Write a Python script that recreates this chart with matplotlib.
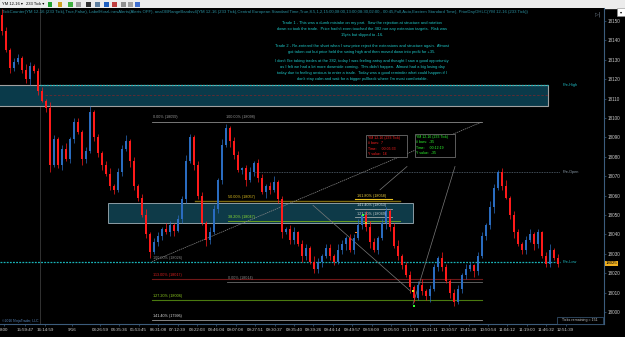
import matplotlib
matplotlib.use('Agg')
import matplotlib.pyplot as plt
from matplotlib.patches import Rectangle

W, H = 625, 337

# ---------------- data ----------------
first_open = 18153
closes = [18145, 18135, 18126, 18129, 18131, 18125, 18120, 18127, 18124, 18114,
          18109, 18105, 18076, 18089, 18076, 18084, 18079, 18089, 18098, 18093,
          18079, 18083, 18103, 18090, 18082, 18076, 18071, 18065, 18063, 18072,
          18084, 18088, 18078, 18065, 18059, 18050, 18040, 18031, 18036, 18039,
          18043, 18041, 18045, 18042, 18048, 18058, 18078, 18090, 18076, 18060,
          18046, 18037, 18041, 18053, 18068, 18086, 18095, 18088, 18081, 18073,
          18074, 18068, 18072, 18077, 18069, 18062, 18065, 18063, 18067, 18058,
          18041, 18043, 18037, 18041, 18035, 18029, 18033, 18026, 18022, 18026,
          18029, 18033, 18029, 18026, 18032, 18035, 18038, 18032, 18038, 18045,
          18050, 18044, 18036, 18032, 18038, 18046, 18052, 18044, 18034, 18029,
          18024, 18019, 18013, 18007, 18014, 18011, 18008, 18012, 18023, 18028,
          18023, 18016, 18010, 18005, 18012, 18019, 18022, 18024, 18021, 18029,
          18039, 18045, 18054, 18064, 18072, 18065, 18059, 18050, 18041, 18035,
          18032, 18037, 18040, 18035, 18041, 18029, 18025, 18032, 18028, 18025]
wick_hi = [3, 2, 1, 2, 2, 1, 3, 2, 1, 2, 2, 1, 3, 2, 1, 2, 3, 1, 2, 2,
           1, 2, 3, 1, 2, 1, 2, 3, 1, 2, 2, 3, 1, 2, 1, 2, 3, 1, 2, 2,
           1, 3, 2, 1, 2, 2, 3, 2, 1, 2, 2, 1, 3, 2, 1, 3, 2, 1, 2, 2,
           1, 2, 3, 1, 2, 2, 1, 2, 3, 1, 2, 1, 2, 3, 1, 2, 2, 1, 3, 2,
           1, 2, 2, 1, 3, 2, 1, 2, 2, 3, 1, 2, 3, 2, 1, 2, 2, 1, 2, 3,
           1, 2, 2, 1, 2, 3, 1, 2, 2, 1, 3, 2, 1, 2, 2, 1, 3, 2, 1, 2,
           2, 1, 3, 2, 1, 2, 3, 1, 2, 2, 1, 2, 3, 1, 2, 1, 2, 3, 1, 2]
wick_lo = [2, 1, 3, 2, 1, 2, 2, 3, 1, 2, 1, 2, 4, 1, 2, 3, 1, 2, 2, 1,
           3, 2, 1, 2, 2, 3, 1, 2, 2, 1, 2, 1, 3, 2, 2, 1, 2, 3, 1, 2,
           2, 1, 2, 3, 1, 2, 2, 1, 3, 2, 1, 3, 2, 1, 2, 2, 1, 3, 2, 1,
           2, 3, 1, 2, 2, 1, 3, 2, 1, 2, 3, 1, 2, 2, 1, 3, 2, 1, 2, 2,
           3, 1, 2, 2, 1, 2, 3, 1, 2, 1, 2, 2, 3, 1, 2, 1, 3, 2, 1, 2,
           2, 1, 3, 2, 1, 2, 2, 3, 1, 2, 2, 1, 3, 2, 1, 2, 2, 1, 3, 2,
           1, 2, 2, 3, 1, 2, 1, 2, 3, 1, 2, 2, 1, 3, 2, 1, 2, 2, 1, 2]

price_ticks = list(range(18000, 18151, 10))
time_labels = ["8:00", "15:59:47", "16:14:59", "9/16", "03:26:59", "04:35:36",
               "05:53:45", "06:31:08", "07:12:39", "08:22:03", "08:46:04",
               "09:07:08", "09:27:51", "09:30:37", "09:35:40", "09:39:26",
               "09:44:14", "09:49:57", "09:58:09", "10:05:50", "10:13:18",
               "10:21:11", "10:30:57", "10:41:49", "10:50:54", "11:04:12",
               "11:19:00", "11:46:32", "12:51:39"]

pre_high, pre_open, pre_low = 18117, 18072, 18026
zone_upper = (18106, 18117)
zone_lower = (18046, 18056)

note_lines = [
    "Trade 1 - This was a dumb mistake on my part.  Saw the rejection at structure and rotation",
    "down so took the trade.  Price hadn't even touched the 382 nor any extension targets.  Risk was",
    "15pts but slipped to -16.",
    "Trade 2 - Re-entered the short when I saw price reject the extensions and structure again.  Almost",
    "got taken out but price held the swing high and then moved down into profit for +35.",
    "I don't like taking trades at the 382, today I was feeling antsy and thought I saw a good opportunity",
    "as I felt we had a lot more downside coming.  This didn't happen.  Almost had a big losing day",
    "today due to feeling anxious to enter a trade.  Today was a good reminder what could happen if I",
    "don't stay calm and wait for a bigger pullback where I'm most comfortable.",
]
indicator_text = ("TickCounter(YM 12-16 (233 Tick),True,False), LabelHorzLinesAlerts(Alerts OFF), "
                  "anaOBRangeBandsv4(YM 12-16 (233 Tick),Central European Standard Time,True,8.5,1,2,"
                  "15:00,08:00,13:00,08:30,02:00,- 00:45,Full,Auto,Eastern Standard Time), "
                  "PriorDayOHLC(YM 12-16 (233 Tick))")
red_ruler = ["YM 12-16 (233 Tick)", "# bars:  7", "Time:     00:05:33", "Y value:  16"]
green_ruler = ["YM 12-16 (233 Tick)", "# bars:  -35", "Time:     00:12:19", "Y value:  -35"]

# ---------------- layout helpers ----------------
def bx(px):
    return (px - 2) / 4.0

Y_TOP, Y_BOT = 8, 324
P_TOP = 18150 + (21 - Y_TOP) / 1.94
P_BOT = 18150 - (Y_BOT - 21) / 1.94

plt.rcParams['font.family'] = ['Liberation Sans', 'DejaVu Sans']
fig = plt.figure(figsize=(W / 100, H / 100), dpi=100, facecolor='black')

def ftext(x, y, s, **kw):
    kw.setdefault('va', 'center')
    return fig.text(x / W, 1 - y / H, s, **kw)

ax = fig.add_axes([0, (H - Y_BOT) / H, 604 / W, (Y_BOT - Y_TOP) / H])
ax.set_facecolor('black')
ax.set_xlim(bx(0), bx(604))
ax.set_ylim(P_BOT, P_TOP)

# zones
ax.add_patch(Rectangle((bx(-2), zone_upper[0]), bx(548) - bx(-2), zone_upper[1] - zone_upper[0],
                       facecolor='#0a3a4a', edgecolor='#a0a0a0', lw=0.8, zorder=1))
ax.add_patch(Rectangle((bx(108), zone_lower[0]), bx(413) - bx(108), zone_lower[1] - zone_lower[0],
                       facecolor='#0e3a48', edgecolor='#8c9ca4', lw=0.7, zorder=1))
ax.plot([bx(45), bx(548)], [18112, 18112], color='#6a2a30', lw=0.6, ls=(0, (3, 2)), zorder=1.5)

# session separator
ax.axvline(bx(40), color='#3a3a3a', lw=0.6, zorder=0.5)

# prior day levels
ax.plot([bx(40), bx(548)], [pre_high, pre_high], color='#19b4b8', lw=0.9, ls=(0, (1.5, 1)), zorder=2)
ax.plot([bx(255), bx(560)], [pre_open, pre_open], color='#5a6a78', lw=0.6, ls=(0, (1, 1)), zorder=2)
ax.plot([bx(0), bx(560)], [pre_low, pre_low], color='#19b4b8', lw=0.9, ls=(0, (1.5, 1)), zorder=2)
for lvl, name, col in [(pre_high, "Pre-High", '#1fb8c0'), (pre_open, "Pre-Open", '#8a9aa8'),
                       (pre_low, "Pre-Low", '#1fb8c0')]:
    ax.text(bx(563), lvl, name, color=col, fontsize=2.8, va='center', ha='left', zorder=5)

# fib set (upper retracement)
ax.plot([bx(152), bx(482)], [18098, 18098], color='#8a8a8a', lw=0.6, zorder=2)
ax.text(bx(153), 18099.5, "0.00% (18099)", color='#9a9a9a', fontsize=2.7, va='bottom', zorder=5)
ax.text(bx(226), 18099.5, "100.00% (18098)", color='#9a9a9a', fontsize=2.7, va='bottom', zorder=5)
ax.plot([bx(195), bx(400)], [18057, 18057], color='#7a6a10', lw=1.0, zorder=2)
ax.text(bx(228), 18058, "50.00% (18057)", color='#e0c020', fontsize=2.7, va='bottom', zorder=5)
ax.plot([bx(228), bx(400)], [18047, 18047], color='#6aa020', lw=0.7, zorder=2)
ax.text(bx(228), 18048, "38.20% (18047)", color='#90e030', fontsize=2.7, va='bottom', zorder=5)

# extension targets
ax.plot([bx(355), bx(392)], [18058, 18058], color='#e8c020', lw=0.8, zorder=2)
ax.text(bx(357), 18059, "161.80% (18058)", color='#f0d040', fontsize=2.7, va='bottom', zorder=5)
ax.plot([bx(355), bx(392)], [18053, 18053], color='#a0a8a8', lw=0.6, zorder=2)
ax.text(bx(357), 18054, "141.40% (18053)", color='#d0d8d8', fontsize=2.7, va='bottom', zorder=5)
ax.plot([bx(355), bx(392)], [18049, 18049], color='#a0a8a8', lw=0.6, zorder=2)
ax.text(bx(357), 18049.5, "127.20% (18049)", color='#c8d0d0', fontsize=2.7, va='bottom', zorder=5)

# lower extension set
ax.text(bx(153), 18027, "100.00% (18026)", color='#8a8a8a', fontsize=2.7, va='bottom', zorder=5)
ax.plot([bx(152), bx(482)], [18017, 18017], color='#701818', lw=0.8, zorder=2)
ax.text(bx(153), 18018, "113.00% (18017)", color='#e02020', fontsize=2.7, va='bottom', zorder=5)
ax.plot([bx(227), bx(482)], [18015.5, 18015.5], color='#6a6a6a', lw=0.6, zorder=2)
ax.text(bx(228), 18016.5, "0.00% (18014)", color='#8a8a8a', fontsize=2.7, va='bottom', zorder=5)
ax.plot([bx(152), bx(482)], [18006, 18006], color='#4a7a10', lw=0.8, zorder=2)
ax.text(bx(153), 18007, "127.20% (18006)", color='#90d020', fontsize=2.7, va='bottom', zorder=5)
ax.plot([bx(152), bx(482)], [17996, 17996], color='#9a9a9a', lw=0.6, zorder=2)
ax.text(bx(153), 17997, "141.40% (17996)", color='#e0e0e0', fontsize=2.7, va='bottom', zorder=5)

# drawing lines
ax.plot([bx(152), bx(482)], [18026, 18098], color='#8a8a8a', lw=0.5, ls=(0, (2, 1)), zorder=2)
ax.plot([bx(313), bx(410)], [18055, 18011], color='#7a7a7a', lw=0.5, zorder=2)
ax.plot([bx(407), bx(380)], [18075, 18063], color='#7a7a7a', lw=0.5, zorder=2)
ax.plot([bx(455), bx(413)], [18075, 18004], color='#7a7a7a', lw=0.5, zorder=2)

# candles
opens = [first_open] + closes[:-1]
xs = list(range(len(closes)))
cols = ['#2a6cc0' if c >= o else '#ff1a1a' for o, c in zip(opens, closes)]
highs = [max(o, c) + w for o, c, w in zip(opens, closes, wick_hi)]
lows = [min(o, c) - w for o, c, w in zip(opens, closes, wick_lo)]
ax.vlines(xs, lows, highs, colors=cols, lw=0.5, zorder=3)
ax.bar(xs, [max(abs(c - o), 0.6) for o, c in zip(opens, closes)],
       bottom=[min(o, c) for o, c in zip(opens, closes)], width=0.55, color=cols, zorder=3)

# trade markers
ax.scatter([bx(414), bx(413), bx(363), bx(366), bx(356)], [18003, 18011, 18050, 18046, 18041],
           marker='s', s=1.5, c=['#30ff30', '#e0e020', '#30ff30', '#ffb020', '#ff8020'], zorder=4, lw=0)

# ruler boxes
def rbox(x0, y0, x1, y1, lines, col, edge):
    fig.add_artist(Rectangle((x0 / W, 1 - y1 / H), (x1 - x0) / W, (y1 - y0) / H,
                             transform=fig.transFigure, facecolor='black', edgecolor=edge, lw=0.5, zorder=6))
    for k, s in enumerate(lines):
        ftext(x0 + 1.5, y0 + 3 + k * 5.3, s, color=col, fontsize=2.5, ha='left', zorder=7)

rbox(366, 135, 407, 157, red_ruler, '#ff2020', '#808080')
rbox(415, 134, 455, 157, green_ruler, '#30ff30', '#808080')

# axes styling
for s in ['top', 'left']:
    ax.spines[s].set_visible(False)
for s in ['right', 'bottom']:
    ax.spines[s].set_color('#3c5c7c')
    ax.spines[s].set_linewidth(0.8)
ax.yaxis.tick_right()
ax.set_yticks(price_ticks)
ax.set_yticklabels([str(v) for v in price_ticks])
ax.tick_params(axis='y', colors='#3c5c7c', labelcolor='#c8c8c8', labelsize=3.3, length=1.5, width=0.5, pad=1)
xpos = [4, 25, 45, 72] + [100 + 19.4 * k for k in range(25)]
ax.set_xticks([bx(p) for p in xpos])
ax.set_xticklabels(time_labels)
ax.tick_params(axis='x', colors='#3c5c7c', labelcolor='#d0d0d0', labelsize=3.2, length=1.5, width=0.5, pad=1.5)

# price marker
ax.text(1.003, closes[-1], str(closes[-1]), transform=ax.get_yaxis_transform(), color='black',
        fontsize=3.1, va='center', ha='left', zorder=8, clip_on=False,
        bbox=dict(boxstyle='square,pad=0.15', fc='#f0b020', ec='#f0b020', lw=0))

# toolbar
fig.add_artist(Rectangle((0, 1 - 8 / H), 1, 8 / H, transform=fig.transFigure, color='#ececec', zorder=0))
ftext(2, 4, "YM 12-16 \u25be", color='black', fontsize=3.0, ha='left')
ftext(26, 4, "233 Tick \u25be", color='black', fontsize=3.0, ha='left')
for xi, c in [(48, '#20a030'), (58, '#d0a020'), (68, '#40b040'), (76, '#a0a0a0'),
              (86, '#303030'), (95, '#6080a0'), (104, '#2060c0'), (112, '#c04040'),
              (121, '#909090'), (128, '#a0a0a0'), (135, '#4070d0')]:
    fig.add_artist(Rectangle(((xi) / W, 1 - 6.5 / H), 4.5 / W, 5 / H, transform=fig.transFigure,
                             facecolor=c, edgecolor='none', zorder=1))
fig.add_artist(Rectangle((617 / W, 1 - 16 / H), 8 / W, 8 / H, transform=fig.transFigure,
                         facecolor='white', edgecolor='#909090', lw=0.4, zorder=1))
ftext(621, 12, "\u25be", color='black', fontsize=3.0, ha='center', family='DejaVu Sans')
ftext(598, 14, "\u25b7|", color='#8090a0', fontsize=3.5, ha='center', family='DejaVu Sans')

# indicator header
ftext(2, 12, indicator_text, color='#2a90a0', fontsize=3.1, ha='left')

# notes
note_y = [23, 29, 35, 46, 52, 61, 67, 73, 79]
for s, y in zip(note_lines, note_y):
    ftext(362, y, s, color='#1ec8c8', fontsize=2.9, ha='center')

# footer
ftext(2, 321, "\u00a92016 NinjaTrader, LLC", color='#5a8ac0', fontsize=2.4, ha='left')
fig.add_artist(Rectangle((557 / W, 1 - 324 / H), 46 / W, 7 / H, transform=fig.transFigure,
                         facecolor='black', edgecolor='#3c5c7c', lw=0.5, zorder=6))
ftext(580, 320.5, "Ticks remaining = 151", color='#c8c8c8', fontsize=2.6, ha='center', zorder=7)

fig.savefig('out.png', dpi=100, facecolor='black')
